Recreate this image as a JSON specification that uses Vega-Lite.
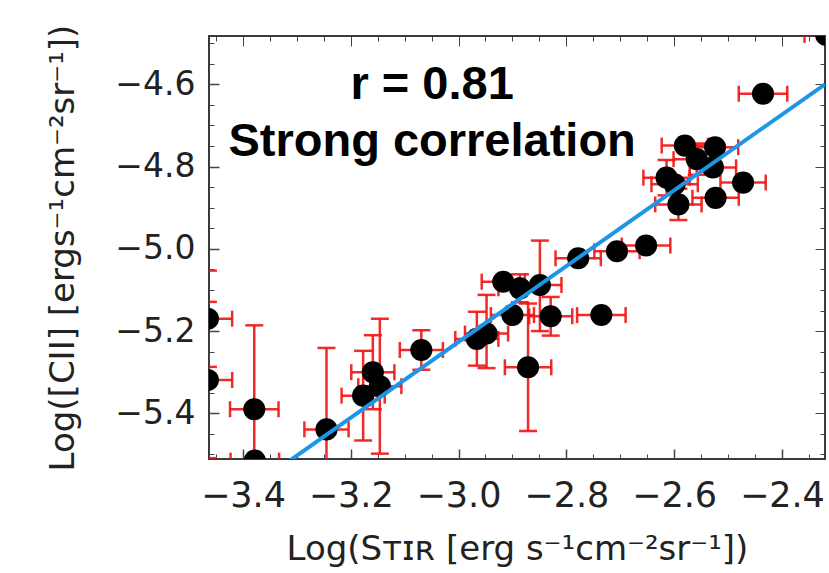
{
  "$schema": "https://vega.github.io/schema/vega-lite/v6.json",
  "width": 616,
  "height": 423,
  "autosize": {"type": "none"},
  "padding": {"left": 209, "top": 36, "right": 4, "bottom": 114},
  "background": "white",
  "config": {
    "view": {"stroke": "#3a3a3a", "strokeWidth": 2},
    "axis": {
      "grid": false,
      "domain": false,
      "labelFont": "DejaVu Sans",
      "titleFont": "DejaVu Sans",
      "labelColor": "#222222",
      "titleColor": "#222222",
      "tickColor": "#444444",
      "titleFontWeight": "normal",
      "labelFlush": false,
      "labelOverlap": false,
      "labelBound": false
    }
  },
  "data": {
    "values": [
      {"x": -3.465, "y": -5.170, "xlo": -3.510, "xhi": -3.420, "ylo": -5.287, "yhi": -5.053},
      {"x": -3.465, "y": -5.319, "xlo": -3.510, "xhi": -3.420, "ylo": -5.509, "yhi": -5.129},
      {"x": -3.379, "y": -5.390, "xlo": -3.424, "xhi": -3.334, "ylo": -5.594, "yhi": -5.186},
      {"x": -3.378, "y": -5.515, "xlo": -3.423, "xhi": -3.333, "ylo": null, "yhi": null},
      {"x": -3.245, "y": -5.439, "xlo": -3.286, "xhi": -3.204, "ylo": -5.637, "yhi": -5.241},
      {"x": -3.177, "y": -5.357, "xlo": -3.217, "xhi": -3.137, "ylo": -5.466, "yhi": -5.248},
      {"x": -3.159, "y": -5.300, "xlo": -3.199, "xhi": -3.119, "ylo": -5.390, "yhi": -5.210},
      {"x": -3.146, "y": -5.334, "xlo": -3.186, "xhi": -3.106, "ylo": -5.498, "yhi": -5.170},
      {"x": -3.069, "y": -5.246, "xlo": -3.109, "xhi": -3.029, "ylo": -5.294, "yhi": -5.198},
      {"x": -2.966, "y": -5.219, "xlo": -3.006, "xhi": -2.926, "ylo": -5.284, "yhi": -5.153},
      {"x": -2.948, "y": -5.206, "xlo": -2.988, "xhi": -2.908, "ylo": -5.290, "yhi": -5.112},
      {"x": -2.917, "y": -5.080, "xlo": -2.957, "xhi": -2.877, "ylo": null, "yhi": null},
      {"x": -2.886, "y": -5.096, "xlo": -2.926, "xhi": -2.846, "ylo": -5.130, "yhi": -5.062},
      {"x": -2.849, "y": -5.088, "xlo": -2.889, "xhi": -2.809, "ylo": -5.200, "yhi": -4.980},
      {"x": -2.900, "y": -5.161, "xlo": -2.940, "xhi": -2.860, "ylo": null, "yhi": null},
      {"x": -2.829, "y": -5.164, "xlo": -2.869, "xhi": -2.789, "ylo": -5.211, "yhi": -5.117},
      {"x": -2.735, "y": -5.161, "xlo": -2.780, "xhi": -2.690, "ylo": null, "yhi": null},
      {"x": -2.871, "y": -5.288, "xlo": -2.914, "xhi": -2.828, "ylo": -5.443, "yhi": -5.133},
      {"x": -2.778, "y": -5.023, "xlo": -2.820, "xhi": -2.736, "ylo": null, "yhi": null},
      {"x": -2.706, "y": -5.006, "xlo": -2.748, "xhi": -2.664, "ylo": null, "yhi": null},
      {"x": -2.652, "y": -4.992, "xlo": -2.697, "xhi": -2.607, "ylo": null, "yhi": null},
      {"x": -2.580, "y": -4.749, "xlo": -2.623, "xhi": -2.537, "ylo": null, "yhi": null},
      {"x": -2.524, "y": -4.753, "xlo": -2.567, "xhi": -2.481, "ylo": null, "yhi": null},
      {"x": -2.558, "y": -4.782, "xlo": -2.601, "xhi": -2.515, "ylo": -4.820, "yhi": -4.744},
      {"x": -2.528, "y": -4.802, "xlo": -2.571, "xhi": -2.485, "ylo": null, "yhi": null},
      {"x": -2.614, "y": -4.827, "xlo": -2.657, "xhi": -2.571, "ylo": -4.870, "yhi": -4.784},
      {"x": -2.599, "y": -4.843, "xlo": -2.642, "xhi": -2.556, "ylo": null, "yhi": null},
      {"x": -2.472, "y": -4.839, "xlo": -2.514, "xhi": -2.430, "ylo": null, "yhi": null},
      {"x": -2.592, "y": -4.892, "xlo": -2.635, "xhi": -2.549, "ylo": -4.930, "yhi": -4.854},
      {"x": -2.523, "y": -4.876, "xlo": -2.566, "xhi": -2.480, "ylo": null, "yhi": null},
      {"x": -2.435, "y": -4.623, "xlo": -2.480, "xhi": -2.390, "ylo": null, "yhi": null},
      {"x": -2.318, "y": -4.480, "xlo": -2.358, "xhi": -2.278, "ylo": null, "yhi": null},
      {"tx": -3.049, "ty": -4.636, "label": "r = 0.81"},
      {"tx": -3.049, "ty": -4.7755, "label": "Strong correlation"},
      {"fx": -3.3165, "fy": -5.518},
      {"fx": -2.32, "fy": -4.600}
    ]
  },
  "layer": [
    {
      "mark": {"type": "rule", "color": "#f01414", "strokeWidth": 2.5, "opacity": 0.9, "clip": true},
      "encoding": {
        "x": {"field": "xlo", "type": "quantitative", "scale": {"domain": [-3.463, -2.32], "nice": false, "zero": false},
          "axis": {"orient": "bottom", "values": [-3.4, -3.2, -3.0, -2.8, -2.6, -2.4], "format": ".1f", "ticks": true, "tickSize": 10, "tickWidth": 1.5, "tickColor": "#444444", "tickOpacity": 1, "offset": -10,
            "labelFontSize": 35, "labelPadding": 19, "title": "Log(Sᴛɪʀ [erg s⁻¹cm⁻²sr⁻¹])", "titleFontSize": 34, "titlePadding": 19}},
        "x2": {"field": "xhi"},
        "y": {"field": "y", "type": "quantitative", "scale": {"domain": [-5.511, -4.4826], "nice": false, "zero": false},
          "axis": {"orient": "left", "values": [-5.4, -5.2, -5.0, -4.8, -4.6], "format": ".1f", "ticks": true, "tickSize": 10, "tickWidth": 1.5, "tickColor": "#444444", "tickOpacity": 1, "offset": -10,
            "labelFontSize": 33, "labelPadding": 14, "title": "Log([CII] [ergs⁻¹cm⁻²sr⁻¹])", "titleFontSize": 34, "titlePadding": 34}}
      }
    },
    {
      "mark": {"type": "tick", "orient": "vertical", "color": "#f01414", "size": 16, "thickness": 2.5, "opacity": 0.9, "clip": true},
      "encoding": {
        "x": {"field": "xlo", "type": "quantitative", "scale": {"domain": [-3.463, -2.32], "nice": false, "zero": false},
          "axis": {"orient": "top", "values": [-3.4, -3.2, -3.0, -2.8, -2.6, -2.4], "labels": false, "title": null, "tickSize": 10, "offset": -10}},
        "y": {"field": "y", "type": "quantitative", "scale": {"domain": [-5.511, -4.4826], "nice": false, "zero": false},
          "axis": {"orient": "right", "values": [-5.4, -5.2, -5.0, -4.8, -4.6], "labels": false, "title": null, "tickSize": 10, "offset": -10}}
      }
    },
    {
      "mark": {"type": "tick", "orient": "vertical", "color": "#f01414", "size": 16, "thickness": 2.5, "opacity": 0.9, "clip": true},
      "encoding": {
        "x": {"field": "xhi", "type": "quantitative", "scale": {"domain": [-3.463, -2.32], "nice": false, "zero": false},
          "axis": {"orient": "bottom", "values": [-3.45, -3.35, -3.3, -3.25, -3.15, -3.1, -3.05, -2.95, -2.9, -2.85, -2.75, -2.7, -2.65, -2.55, -2.5, -2.45, -2.35], "labels": false, "title": null, "tickSize": 5, "offset": -5}},
        "y": {"field": "y", "type": "quantitative", "scale": {"domain": [-5.511, -4.4826], "nice": false, "zero": false},
          "axis": {"orient": "left", "values": [-5.5, -5.45, -5.35, -5.3, -5.25, -5.15, -5.1, -5.05, -4.95, -4.9, -4.85, -4.75, -4.7, -4.65, -4.55, -4.5], "labels": false, "title": null, "tickSize": 5, "offset": -5}}
      }
    },
    {
      "mark": {"type": "rule", "color": "#f01414", "strokeWidth": 2.5, "opacity": 0.9, "clip": true},
      "encoding": {
        "x": {"field": "x", "type": "quantitative", "scale": {"domain": [-3.463, -2.32], "nice": false, "zero": false},
          "axis": {"orient": "top", "values": [-3.45, -3.35, -3.3, -3.25, -3.15, -3.1, -3.05, -2.95, -2.9, -2.85, -2.75, -2.7, -2.65, -2.55, -2.5, -2.45, -2.35], "labels": false, "title": null, "tickSize": 5, "offset": -5}},
        "y": {"field": "ylo", "type": "quantitative", "scale": {"domain": [-5.511, -4.4826], "nice": false, "zero": false},
          "axis": {"orient": "right", "values": [-5.5, -5.45, -5.35, -5.3, -5.25, -5.15, -5.1, -5.05, -4.95, -4.9, -4.85, -4.75, -4.7, -4.65, -4.55, -4.5], "labels": false, "title": null, "tickSize": 5, "offset": -5}},
        "y2": {"field": "yhi"}
      }
    },
    {
      "mark": {"type": "tick", "orient": "horizontal", "color": "#f01414", "size": 18, "thickness": 2.5, "opacity": 0.9, "clip": true},
      "encoding": {
        "x": {"field": "x", "type": "quantitative", "scale": {"domain": [-3.463, -2.32], "nice": false, "zero": false}, "axis": null},
        "y": {"field": "ylo", "type": "quantitative", "scale": {"domain": [-5.511, -4.4826], "nice": false, "zero": false}, "axis": null}
      }
    },
    {
      "mark": {"type": "tick", "orient": "horizontal", "color": "#f01414", "size": 18, "thickness": 2.5, "opacity": 0.9, "clip": true},
      "encoding": {
        "x": {"field": "x", "type": "quantitative", "scale": {"domain": [-3.463, -2.32], "nice": false, "zero": false}, "axis": null},
        "y": {"field": "yhi", "type": "quantitative", "scale": {"domain": [-5.511, -4.4826], "nice": false, "zero": false}, "axis": null}
      }
    },
    {
      "mark": {"type": "circle", "color": "black", "size": 490, "opacity": 1, "clip": true},
      "encoding": {
        "x": {"field": "x", "type": "quantitative", "scale": {"domain": [-3.463, -2.32], "nice": false, "zero": false}, "axis": null},
        "y": {"field": "y", "type": "quantitative", "scale": {"domain": [-5.511, -4.4826], "nice": false, "zero": false}, "axis": null}
      }
    },
    {
      "mark": {"type": "line", "color": "#1e96e6", "strokeWidth": 4, "clip": true},
      "encoding": {
        "x": {"field": "fx", "type": "quantitative", "scale": {"domain": [-3.463, -2.32], "nice": false, "zero": false}, "axis": null},
        "y": {"field": "fy", "type": "quantitative", "scale": {"domain": [-5.511, -4.4826], "nice": false, "zero": false}, "axis": null}
      }
    },
    {
      "mark": {"type": "text", "align": "center", "baseline": "alphabetic", "font": "Liberation Sans", "fontWeight": "bold", "fontSize": 47, "color": "black"},
      "encoding": {
        "x": {"field": "tx", "type": "quantitative", "scale": {"domain": [-3.463, -2.32], "nice": false, "zero": false}, "axis": null},
        "y": {"field": "ty", "type": "quantitative", "scale": {"domain": [-5.511, -4.4826], "nice": false, "zero": false}, "axis": null},
        "text": {"field": "label", "type": "nominal"}
      }
    }
  ],
  "resolve": {"axis": {"x": "independent", "y": "independent"}}
}
